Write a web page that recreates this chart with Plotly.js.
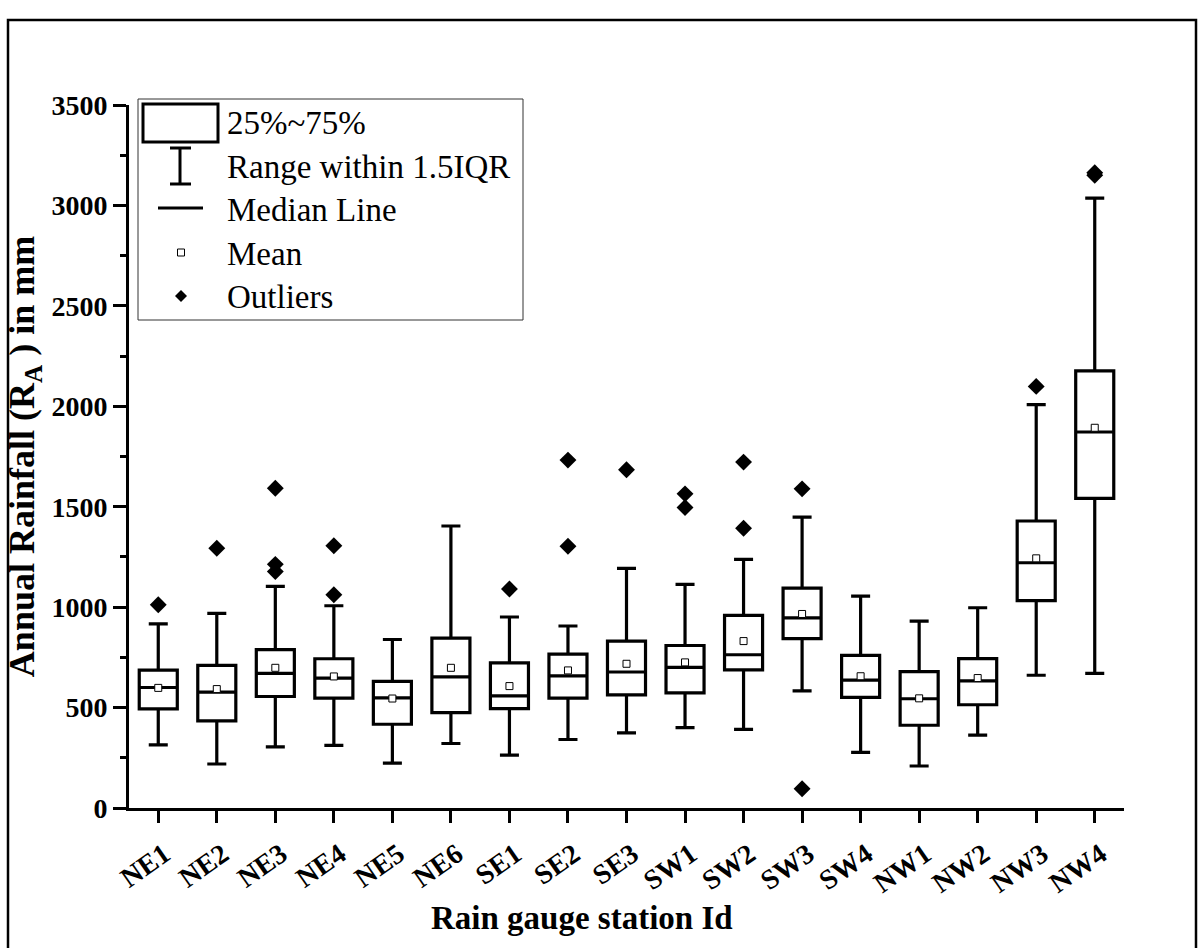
<!DOCTYPE html>
<html>
<head>
<meta charset="utf-8">
<script src="https://cdn.plot.ly/plotly-3.0.1.min.js"></script>
<style>html,body{margin:0;padding:0;background:#fff;}#chart{width:1203px;height:948px;}</style>
</head>
<body>
<div id="chart"></div>
<script>
// ---- Data ----
const stations = ['NE1','NE2','NE3','NE4','NE5','NE6','SE1','SE2','SE3','SW1','SW2','SW3','SW4','NW1','NW2','NW3','NW4'];
const lowerWhisker = [314, 219, 304, 312, 223, 321, 263, 341, 374, 400, 391, 583, 277, 209, 363, 661, 670];
const q1Values     = [494, 434, 555, 547, 417, 475, 495, 547, 563, 573, 688, 843, 551, 412, 514, 1032, 1542];
const medianValues = [600, 577, 670, 647, 548, 653, 558, 658, 677, 700, 763, 947, 637, 544, 633, 1221, 1872];
const q3Values     = [686, 710, 788, 743, 630, 846, 723, 766, 831, 809, 959, 1095, 760, 679, 744, 1429, 2176];
const upperWhisker = [917, 969, 1103, 1007, 839, 1404, 951, 906, 1193, 1113, 1238, 1448, 1055, 930, 997, 2008, 3036];
const meanValues   = [598, 592, 698, 655, 545, 698, 607, 685, 718, 725, 831, 966, 656, 546, 647, 1243, 1893];
const outlierStation = ['NE1','NE2','NE3','NE3','NE3','NE4','NE4','SE1','SE2','SE2','SE3','SW1','SW1','SW2','SW2','SW3','SW3','NW3','NW4','NW4'];
const outlierValue   = [1012, 1293, 1592, 1213, 1177, 1306, 1062, 1090, 1732, 1303, 1684, 1564, 1496, 1722, 1393, 1589, 96, 2099, 3150, 3163];
const legendLabels = ['25%~75%', 'Range within 1.5IQR', 'Median Line', 'Mean', 'Outliers'];

// ---- Layout geometry ----
const FW = 1203, FH = 948;
const M = {l: 129, r: 79, t: 105, b: 140};
const PW = FW - M.l - M.r, PH = FH - M.t - M.b;
const fx = x => (x - M.l) / PW;          // pixel x -> paper x
const fy = y => (FH - M.b - y) / PH;     // pixel y -> paper y
const serif = 'Liberation Serif, Times New Roman, serif';

const boxTrace = {
  type: 'box', x: stations,
  q1: q1Values, median: medianValues, q3: q3Values,
  lowerfence: lowerWhisker, upperfence: upperWhisker,
  width: 0.65, whiskerwidth: 0.5, boxpoints: false,
  line: {color: 'black', width: 3.2}, fillcolor: 'white',
  showlegend: false, hoverinfo: 'y'
};
const meanTrace = {
  type: 'scatter', mode: 'markers', x: stations, y: meanValues,
  marker: {symbol: 'square', size: 7, color: 'white', line: {color: 'black', width: 1}},
  showlegend: false
};
const outlierTrace = {
  type: 'scatter', mode: 'markers', x: outlierStation, y: outlierValue,
  marker: {symbol: 'diamond', size: 13, color: 'black', line: {width: 0}},
  showlegend: false
};

function pathPx(pts, close) {
  return pts.map((p, i) => (i ? 'L' : 'M') + fx(p[0]) + ',' + fy(p[1])).join(' ') + (close ? ' Z' : '');
}

const shapes = [
  // page frame
  {type: 'rect', xref: 'paper', yref: 'paper', x0: fx(8), x1: fx(1196), y0: fy(960), y1: fy(20),
   line: {color: 'black', width: 2.5}, layer: 'above'},
  // legend frame
  {type: 'rect', xref: 'paper', yref: 'paper', x0: fx(138), x1: fx(523), y0: fy(320), y1: fy(99),
   line: {color: '#333', width: 1}, fillcolor: 'white', layer: 'above'},
  // legend box icon
  {type: 'rect', xref: 'paper', yref: 'paper', x0: fx(143), x1: fx(218), y0: fy(142), y1: fy(104),
   line: {color: 'black', width: 3}, layer: 'above'},
  // whisker icon
  {type: 'path', xref: 'paper', yref: 'paper', path: pathPx([[180,148],[180,184]]), line: {color: 'black', width: 3}, layer: 'above'},
  {type: 'path', xref: 'paper', yref: 'paper', path: pathPx([[170,148],[191,148]]), line: {color: 'black', width: 3}, layer: 'above'},
  {type: 'path', xref: 'paper', yref: 'paper', path: pathPx([[170,184],[191,184]]), line: {color: 'black', width: 3}, layer: 'above'},
  // median icon
  {type: 'path', xref: 'paper', yref: 'paper', path: pathPx([[158,208],[203,208]]), line: {color: 'black', width: 3}, layer: 'above'},
  // mean icon
  {type: 'rect', xref: 'paper', yref: 'paper', x0: fx(177.5), x1: fx(184.5), y0: fy(256), y1: fy(249),
   line: {color: 'black', width: 1}, fillcolor: 'white', layer: 'above'},
  // outlier icon
  {type: 'path', xref: 'paper', yref: 'paper', path: pathPx([[181,290],[187,296],[181,302],[175,296]], true),
   line: {color: 'black', width: 0}, fillcolor: 'black', layer: 'above'}
];

const legendY = [123, 167, 210, 254, 297];
const annotations = legendLabels.map((t, i) => ({
  xref: 'paper', yref: 'paper', x: fx(225), y: fy(legendY[i]), xanchor: 'left', yanchor: 'middle',
  text: t, showarrow: false, font: {family: serif, size: 33, color: 'black'}
}));
annotations.push({
  xref: 'paper', yref: 'paper', x: fx(582), y: fy(918), xanchor: 'center', yanchor: 'middle',
  text: 'Rain gauge station Id', showarrow: false,
  font: {family: serif, size: 33, color: 'black', weight: 'bold'}
});

const layout = {
  width: FW, height: FH, margin: M,
  paper_bgcolor: 'white', plot_bgcolor: 'white',
  showlegend: false, boxmode: 'overlay',
  font: {family: serif, color: 'black'},
  xaxis: {
    type: 'category', categoryorder: 'array', categoryarray: stations,
    range: [-0.5, stations.length - 0.5],
    showline: true, linewidth: 3, linecolor: 'black', mirror: false,
    ticks: 'outside', ticklen: 12, tickwidth: 3, tickcolor: 'black',
    tickangle: -35, showgrid: false, zeroline: false,
    ticklabelstandoff: 4, ticklabelshift: 6,
    tickfont: {family: serif, size: 28, color: 'black', weight: 'bold'}
  },
  yaxis: {
    range: [0, 3500], tick0: 0, dtick: 500,
    showline: true, linewidth: 3, linecolor: 'black',
    ticks: 'outside', ticklen: 13, tickwidth: 3, tickcolor: 'black',
    minor: {ticks: 'outside', ticklen: 6, tickwidth: 3, tickcolor: 'black', dtick: 250, showgrid: false},
    showgrid: false, zeroline: false,
    tickfont: {family: serif, size: 28, color: 'black', weight: 'bold'},
    title: {text: 'Annual Rainfall (R<sub>A</sub> ) in mm', standoff: 6,
            font: {family: serif, size: 36, color: 'black', weight: 'bold'}}
  },
  shapes: shapes,
  annotations: annotations
};

Plotly.newPlot('chart', [boxTrace, meanTrace, outlierTrace], layout, {displayModeBar: false, staticPlot: true});
</script>
</body>
</html>
